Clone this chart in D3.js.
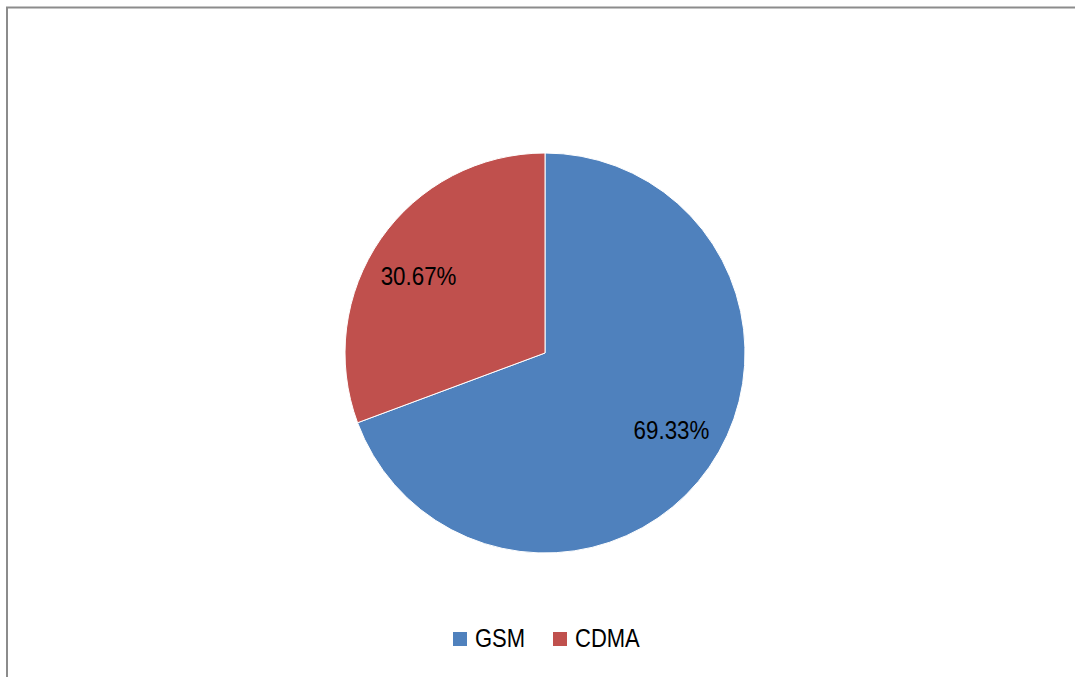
<!DOCTYPE html>
<html><head><meta charset="utf-8">
<script src="https://cdn.jsdelivr.net/npm/d3@7"></script>
<style>body{margin:0;background:#fff}svg{display:block}</style>
</head><body>
<svg id="c" width="1075" height="677"></svg>
<script>
const categories = ["GSM", "CDMA"];
const values = [69.33, 30.67];
const labels = ["69.33%", "30.67%"];
const colors = ["#4F81BD", "#C0504D"];

const svg = d3.select("#c");
const font = "'Liberation Sans Narrow', 'Arial Narrow', 'Liberation Sans', Arial, sans-serif";

// frame (only top and left edges visible)
svg.append("path").attr("d", "M7,677 V7.5 H1075").attr("fill", "none")
  .attr("stroke", "#8c8c8c").attr("stroke-width", 2);

const cx = 545, cy = 353, r = 200;
const g = svg.append("g").attr("transform", `translate(${cx},${cy})`);
const data = categories.map((c, i) => ({c, v: values[i], l: labels[i], col: colors[i]}));
const pie = d3.pie().value(d => d.v).sort(null);
const arc = d3.arc().innerRadius(0).outerRadius(r);
const arcs = pie(data);
g.selectAll("path.s").data(arcs).join("path").attr("class", "s")
  .attr("d", arc).attr("fill", d => d.data.col)
  .attr("stroke", "#fff").attr("stroke-width", 1);

const lr = 148, off = -3.5 * Math.PI / 180;
g.selectAll("text.l").data(arcs).join("text").attr("class", "l")
  .attr("transform", d => {
    const a = (d.startAngle + d.endAngle) / 2 + off;
    return `translate(${lr * Math.sin(a)},${-lr * Math.cos(a)}) scale(0.86,1)`;
  })
  .attr("text-anchor", "middle").attr("dy", "0.35em")
  .attr("font-family", font).attr("font-size", 26).attr("fill", "#000")
  .text(d => d.data.l);

// legend
const legX = [453, 553];
const lg = svg.append("g");
data.forEach((d, i) => {
  lg.append("rect").attr("x", legX[i]).attr("y", 632).attr("width", 14).attr("height", 14).attr("fill", d.col);
  lg.append("text").attr("transform", `translate(${legX[i] + 22},647) scale(0.88,1)`).attr("font-family", font)
    .attr("font-size", 25).attr("fill", "#000").text(d.c);
});
</script>
</body></html>
